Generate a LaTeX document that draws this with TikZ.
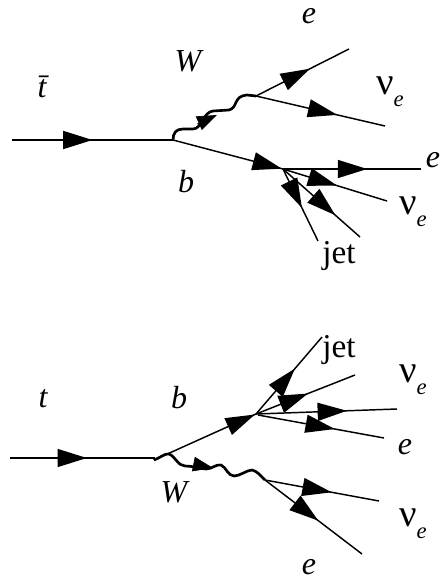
\documentclass[tikz,border=0pt]{standalone}
\usepackage{fontspec}
\setmainfont{Liberation Serif}
\usetikzlibrary{
    arrows.meta,
    decorations.markings,
}
\newcommand{\nue}{ν\raisebox{-.3em}{\fontsize{17}{17}\selectfont\itshape e}}
\begin{document}
\begin{tikzpicture}[
    x=0.75pt, y=-0.75pt,
    leg/.style={line width=1.1pt},
    flow/.style={leg, postaction={decorate, decoration={markings,
        mark=at position #1 with {\arrow{Triangle[length=22pt, width=13.5pt]}}}}},
    wave/.style={line width=2pt, line join=round},
    wavetip/.style={-{Triangle[length=15pt, width=11pt]}, line width=0.5pt},
    lbl/.style={font=\fontsize{24}{24}\selectfont\itshape, inner sep=0pt},
    nu/.style={font=\fontsize{29}{29}\selectfont, inner sep=0pt},
    jetlbl/.style={font=\fontsize{25}{25}\selectfont, inner sep=0pt},
]
    \useasboundingbox (0, 0) rectangle (442, 580);

    % Upper diagram: vertices and free ends
    \coordinate (ain) at (12, 140);
    \coordinate (atop) at (173, 140);
    \coordinate (aw) at (256, 96);
    \coordinate (ab) at (283, 169);
    \coordinate (ae1) at (349, 49);
    \coordinate (an1) at (385, 126);
    \coordinate (ae2) at (421, 169);
    \coordinate (an2) at (387, 201);
    \coordinate (aj1) at (318, 241);
    \coordinate (aj2) at (360, 237);
    \coordinate (atb) at (197, 124);
    \coordinate (att) at (217, 115);

    % Upper diagram: labels
    \node[lbl] (tbar) at (42, 87) {\=t};
    \node[lbl] (wa) at (188, 61) {W};
    \node[lbl] (ea) at (309, 16) {e};
    \node[nu] (nua) at (390, 92) {\nue};
    \node[lbl] (ba) at (186, 182) {b};
    \node[lbl] (eb) at (433, 160) {e};
    \node[nu] (nub) at (413, 212) {\nue};
    \node[jetlbl] (jeta) at (339, 256) {jet};

    % Upper diagram: lines
    \draw[flow=0.5] (ain) -- (atop);
    \draw[wave] (atop) .. controls (173, 133) and (176, 129) .. (183, 129) -- (193, 129)
        .. controls (202, 129) and (203, 112) .. (213, 111) -- (229, 110)
        .. controls (238, 108) and (233, 96) .. (247, 95) -- (aw);
    \draw[wavetip] (atb) -- (att);
    \draw[flow=0.58] (aw) -- (ae1);
    \draw[flow=0.63] (aw) -- (an1);
    \draw[flow=0.99] (atop) -- (ab);
    \draw[flow=0.61] (ab) -- (ae2);
    \draw[flow=0.52] (ab) -- (an2);
    \draw[flow=0.54] (ab) -- (aj1);
    \draw[flow=0.68] (ab) -- (aj2);

    % Lower diagram: vertices and free ends
    \coordinate (cin) at (10, 458);
    \coordinate (cmid) at (155, 458);
    \coordinate (ctop) at (154, 460);
    \coordinate (cb) at (256, 414);
    \coordinate (cbr) at (258, 415);
    \coordinate (cw) at (265, 480);
    \coordinate (cj) at (322, 337);
    \coordinate (cn1) at (355, 375);
    \coordinate (ce1) at (397, 409);
    \coordinate (ce2) at (384, 438);
    \coordinate (cn2) at (379, 501);
    \coordinate (ce3) at (362, 554);
    \coordinate (ctb) at (193, 464);
    \coordinate (ctt) at (213, 468);

    % Lower diagram: labels
    \node[lbl] (tc) at (43, 399) {t};
    \node[lbl] (bc) at (179, 398) {b};
    \node[lbl] (wc) at (174, 492) {W};
    \node[jetlbl] (jetc) at (339, 350) {jet};
    \node[nu] (nuc) at (413, 380) {\nue};
    \node[lbl] (ec) at (405, 447) {e};
    \node[nu] (nud) at (413, 524) {\nue};
    \node[lbl] (ed) at (309, 567) {e};

    % Lower diagram: lines
    \draw[flow=0.53] (cin) -- (cmid);
    \draw[leg] (cmid) -- (ctop);
    \draw[wave] (ctop) .. controls (160, 458) and (165, 453) .. (169, 454)
        .. controls (175, 456) and (178, 466) .. (185, 466)
        .. controls (192, 466) and (198, 468) .. (206, 469)
        .. controls (212, 469) and (216, 464) .. (221, 465)
        .. controls (226, 467) and (228, 476) .. (234, 476)
        .. controls (240, 476) and (247, 470) .. (252, 470)
        .. controls (257, 471) and (261, 476) .. (cw);
    \draw[wavetip] (ctb) -- (ctt);
    \draw[flow=0.99] (ctop) -- (cb);
    \draw[flow=0.59] (cb) -- (cj);
    \draw[flow=0.525] (cb) -- (cn1);
    \draw[flow=0.645] (cb) -- (ce1);
    \draw[flow=0.61] (cbr) -- (ce2);
    \draw[flow=0.585] (cw) -- (cn2);
    \draw[flow=0.55] (cw) -- (ce3);
\end{tikzpicture}
\end{document}
